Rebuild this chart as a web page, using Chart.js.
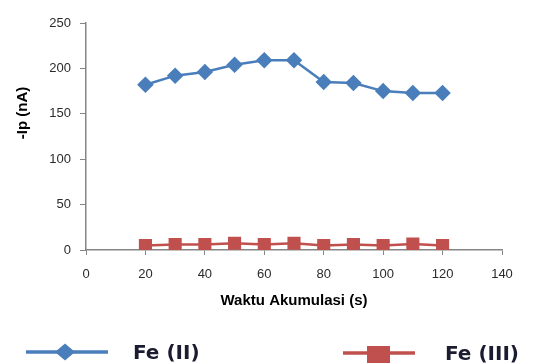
<!DOCTYPE html>
<html>
<head>
<meta charset="utf-8">
<script src="https://cdn.jsdelivr.net/npm/chart.js@4/dist/chart.umd.min.js"></script>
<style>
  html, body { margin: 0; padding: 0; background: #fff; }
  #wadah { width: 533px; height: 363px; }
</style>
</head>
<body>
<div id="wadah"><canvas id="grafik_fe"></canvas></div>
<script>
  // data
  const waktu = [20, 30, 40, 50, 60, 70, 80, 90, 100, 110, 120];
  const arusFe2 = [182, 192, 196, 204, 209, 209, 185, 184, 175, 173, 173];
  const arusFe3 = [5, 6, 6, 7.5, 6, 7.5, 5, 6, 5, 6.5, 5];
  const ticksX = [0, 20, 40, 60, 80, 100, 120, 140];
  const ticksY = [0, 50, 100, 150, 200, 250];

  const biru = '#4a7ebb';
  const merah = '#c0504d';
  const abu = '#868686';

  // legenda bawah + judul sumbu y digambar manual
  const pluginLegenda = {
    id: 'legendaBawah',
    afterDraw(chart) {
      const ctx = chart.ctx;
      ctx.save();

      // judul sumbu y
      ctx.font = 'bold 15px "Liberation Sans", Arial, sans-serif';
      ctx.fillStyle = '#000';
      ctx.textAlign = 'center';
      ctx.textBaseline = 'middle';
      ctx.translate(23, 113);
      ctx.rotate(-Math.PI / 2);
      ctx.fillText('-Ip (nA)', 0, 0);
      ctx.setTransform(1, 0, 0, 1, 0, 0);

      const ds = chart.data.datasets;

      // Fe (II)
      ctx.strokeStyle = ds[0].borderColor;
      ctx.lineWidth = 3.5;
      ctx.beginPath();
      ctx.moveTo(26, 352);
      ctx.lineTo(108, 352);
      ctx.stroke();
      ctx.fillStyle = ds[0].backgroundColor;
      ctx.beginPath();
      ctx.moveTo(55, 352);
      ctx.lineTo(65, 343.5);
      ctx.lineTo(75, 352);
      ctx.lineTo(65, 360.5);
      ctx.closePath();
      ctx.fill();

      // Fe (III)
      ctx.strokeStyle = ds[1].borderColor;
      ctx.beginPath();
      ctx.moveTo(343, 353);
      ctx.lineTo(415, 353);
      ctx.stroke();
      ctx.fillStyle = ds[1].backgroundColor;
      ctx.fillRect(367, 346, 23, 17);

      ctx.font = 'bold 20px "DejaVu Sans", Verdana, sans-serif';
      ctx.fillStyle = '#1c1c30';
      ctx.textAlign = 'left';
      ctx.textBaseline = 'middle';
      ctx.fillText(ds[0].label, 133, 354);
      ctx.fillText(ds[1].label, 445, 355);

      ctx.restore();
    }
  };

  const dados = {
    labels: waktu,
    datasets: [{
      label: 'Fe (II)',
      data: arusFe2,
      borderColor: biru,
      backgroundColor: biru,
      borderWidth: 2.5,
      pointStyle: 'rectRot',
      pointRadius: 6.5,
      pointHoverRadius: 6.5,
      tension: 0
    }, {
      label: 'Fe (III)',
      data: arusFe3,
      borderColor: merah,
      backgroundColor: merah,
      borderWidth: 2.5,
      pointStyle: 'rect',
      pointRadius: 7.5,
      pointHoverRadius: 7.5,
      tension: 0
    }]
  };

  const fonteTick = { family: '"Liberation Sans", Arial, sans-serif', size: 13 };

  const config = {
    type: 'line',
    data: {
      datasets: dados.datasets.map(d => ({
        ...d,
        data: d.data.map((v, i) => ({ x: waktu[i], y: v }))
      }))
    },
    options: {
      responsive: true,
      maintainAspectRatio: false,
      animation: false,
      layout: { padding: { top: 23, right: 31, left: 0, bottom: 0 } },
      plugins: {
        legend: { display: false },
        tooltip: { enabled: false }
      },
      scales: {
        x: {
          type: 'linear',
          min: 0,
          max: 140,
          afterBuildTicks: s => { s.ticks = ticksX.map(v => ({ value: v })); },
          afterFit: s => { s.height = 113; },
          grid: { drawOnChartArea: false, color: abu, tickLength: 5, lineWidth: 1 },
          border: { color: abu, width: 1.5 },
          ticks: { color: '#2b2b2b', font: fonteTick, padding: 12, maxRotation: 0 },
          title: {
            display: true,
            text: 'Waktu Akumulasi (s)',
            color: '#000',
            font: { family: '"Liberation Sans", Arial, sans-serif', size: 15, weight: 'bold' },
            padding: { top: 0, bottom: 53 }
          }
        },
        y: {
          min: 0,
          max: 250,
          afterBuildTicks: s => { s.ticks = ticksY.map(v => ({ value: v })); },
          afterFit: s => { s.width = 86; },
          grid: { drawOnChartArea: false, color: abu, tickLength: 6, lineWidth: 1 },
          border: { color: abu, width: 1.5 },
          ticks: { color: '#2b2b2b', font: fonteTick, padding: 9 }
        }
      }
    },
    plugins: [pluginLegenda]
  };

  let graficoFe = new Chart(document.getElementById('grafik_fe'), config);
</script>
</body>
</html>
